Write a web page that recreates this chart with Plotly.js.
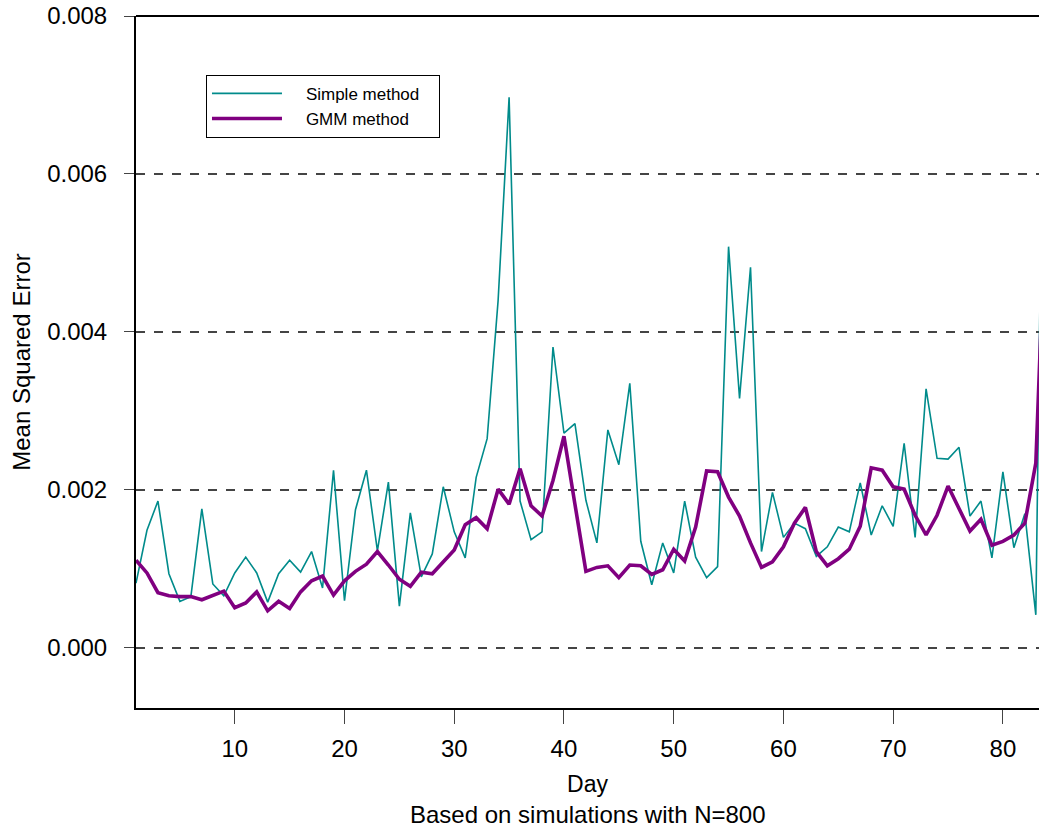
<!DOCTYPE html>
<html>
<head>
<meta charset="utf-8">
<script src="https://cdn.plot.ly/plotly-3.0.1.min.js"></script>
<style>html,body{margin:0;padding:0;background:#fff;overflow:hidden;}</style>
</head>
<body>
<div id="chart" style="width:1039px;height:832px;"></div>
<script>
const days = [];
for (let d = 1; d <= 84; d++) days.push(d);

const simpleMethod = [
  0.00082, 0.00149, 0.00186, 0.00094, 0.00059, 0.00065, 0.00176, 0.00081, 0.00066, 0.00095,
  0.00115, 0.00095, 0.00058, 0.00094, 0.00111, 0.00096, 0.00122, 0.00076, 0.00225, 0.00060,
  0.00175, 0.00225, 0.00123, 0.00210, 0.00053, 0.00171, 0.00090, 0.00119, 0.00204, 0.00147,
  0.00114, 0.00216, 0.00265, 0.00440, 0.00697, 0.00186, 0.00137, 0.00147, 0.00381, 0.00272,
  0.00284, 0.00187, 0.00133, 0.00276, 0.00232, 0.00335, 0.00135, 0.00080, 0.00133, 0.00095,
  0.00186, 0.00115, 0.00089, 0.00103, 0.00508, 0.00316, 0.00482, 0.00122, 0.00197, 0.00140,
  0.00158, 0.00151, 0.00116, 0.00128, 0.00153, 0.00147, 0.00209, 0.00143, 0.00180, 0.00154,
  0.00259, 0.00140, 0.00328, 0.00240, 0.00239, 0.00254, 0.00167, 0.00186, 0.00114, 0.00223,
  0.00127, 0.00170, 0.00042, 0.01100
];

const gmmMethod = [
  0.00111, 0.00095, 0.00070, 0.00066, 0.00065, 0.00065, 0.00061, 0.00067, 0.00072, 0.00051,
  0.00057, 0.00071, 0.00047, 0.00059, 0.00050, 0.00071, 0.00085, 0.00091, 0.00067, 0.00085,
  0.00097, 0.00106, 0.00122, 0.00105, 0.00087, 0.00078, 0.00096, 0.00094, 0.00109, 0.00124,
  0.00156, 0.00165, 0.00151, 0.00201, 0.00182, 0.00227, 0.00180, 0.00167, 0.00212, 0.00268,
  0.00182, 0.00097, 0.00102, 0.00104, 0.00089, 0.00105, 0.00104, 0.00093, 0.00099, 0.00125,
  0.00110, 0.00153, 0.00224, 0.00223, 0.00191, 0.00167, 0.00133, 0.00102, 0.00109, 0.00128,
  0.00158, 0.00178, 0.00122, 0.00104, 0.00113, 0.00125, 0.00154, 0.00228, 0.00225, 0.00204,
  0.00201, 0.00168, 0.00143, 0.00168, 0.00205, 0.00177, 0.00148, 0.00163, 0.00130, 0.00135,
  0.00143, 0.00158, 0.00234, 0.00600
];

const seriesNames = ['Simple method', 'GMM method'];
const xTickVals = [10, 20, 30, 40, 50, 60, 70, 80];
const yTickVals = [0, 0.002, 0.004, 0.006, 0.008];
const xTitle = 'Day';
const subTitle = 'Based on simulations with N=800';
const yTitle = 'Mean Squared Error';

const pad = s => '\u00a0\u00a0\u00a0\u00a0' + s + '\u00a0\u00a0\u00a0';

const traces = [
  {x: days, y: simpleMethod, name: pad(seriesNames[0]), type: 'scatter', mode: 'lines',
   line: {color: '#008B8B', width: 1.6}},
  {x: days, y: gmmMethod, name: pad(seriesNames[1]), type: 'scatter', mode: 'lines',
   line: {color: '#800080', width: 3.6}}
];

const font = 'Liberation Sans, Arial, sans-serif';

const layout = {
  width: 1039, height: 832,
  margin: {l: 136, r: 0, t: 16, b: 124, pad: 0},
  paper_bgcolor: '#fff', plot_bgcolor: '#fff',
  font: {family: font, color: '#000'},
  showlegend: true,
  legend: {
    x: 0.0775, y: 0.915, xanchor: 'left', yanchor: 'top',
    bordercolor: '#000', borderwidth: 1, bgcolor: '#fff',
    font: {family: font, size: 17, color: '#000'},
    itemwidth: 70, tracegroupgap: 0
  },
  xaxis: {
    range: [1, 83.29], tickvals: xTickVals, ticks: 'outside', ticklen: 14,
    tickcolor: '#444', tickwidth: 1, showline: true, linecolor: '#000', linewidth: 2,
    showgrid: false, zeroline: false, tickfont: {family: font, size: 24},
    ticklabelstandoff: 4,
    title: {text: xTitle, font: {family: font, size: 23}, standoff: 15}
  },
  yaxis: {
    range: [-0.00076, 0.008], tickvals: yTickVals, tickformat: '.3f', ticks: 'outside',
    ticklen: 10, tickcolor: '#444', tickwidth: 1, showline: true, linecolor: '#000', linewidth: 2,
    showgrid: true, griddash: 'dash', gridcolor: '#444', gridwidth: 1.2, zeroline: false,
    tickfont: {family: font, size: 24}, ticklabelstandoff: 12,
    title: {text: yTitle, font: {family: font, size: 24}, standoff: 10}
  },
  annotations: [
    {text: subTitle, xref: 'paper', yref: 'paper', x: 0.5, y: -0.1532,
     xanchor: 'center', yanchor: 'middle', showarrow: false,
     font: {family: font, size: 24, color: '#000'}}
  ],
  shapes: [
    {type: 'line', xref: 'paper', yref: 'paper', x0: 0, x1: 1, y0: 1, y1: 1,
     line: {color: '#000', width: 2}}
  ]
};

Plotly.newPlot('chart', traces, layout, {displayModeBar: false, staticPlot: true});
</script>
</body>
</html>
